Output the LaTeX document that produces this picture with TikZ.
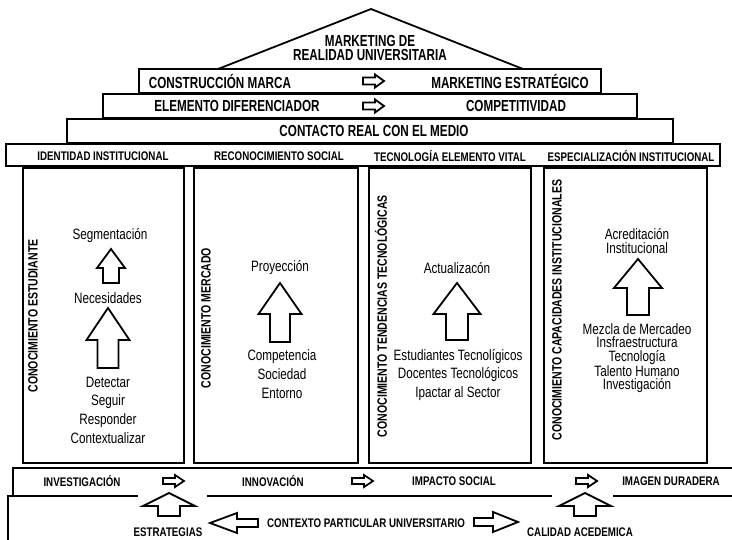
\documentclass[tikz,border=0pt]{standalone}
\usepackage{fontspec}
\setmainfont{Liberation Sans}[FakeStretch=0.78]
\newfontfamily\tallf{Liberation Sans}[FakeStretch=0.73]
\begin{document}
\begin{tikzpicture}[x=1pt,y=-1pt,
  box/.style={draw, line width=2.2pt},
  col/.style={draw, line width=1.8pt},
  arr/.style={draw, fill=white, line width=1.8pt, line join=miter},
  big/.style={font=\tallf\bfseries\fontsize{16}{14.5}\selectfont, inner sep=0pt},
  hdr/.style={font=\bfseries\fontsize{12.5}{14}\selectfont, inner sep=0pt},
  vert/.style={font=\bfseries\fontsize{13.5}{14}\selectfont, inner sep=0pt, rotate=90},
  body/.style={font=\fontsize{15}{18.7}\selectfont, inner sep=0pt, align=center},
  tight/.style={font=\fontsize{15}{13.5}\selectfont, inner sep=0pt, align=center},
  pics/uarr/.style n args={4}{code={\draw[arr] (0,0) -- (#1,#3) -- (#2,#3) -- (#2,#4) -- (-#2,#4) -- (-#2,#3) -- (-#1,#3) -- cycle;}},
  pics/rarr/.style n args={4}{code={\draw[arr] (0,0) -- (-#3,-#1) -- (-#3,-#2) -- (-#4,-#2) -- (-#4,#2) -- (-#3,#2) -- (-#3,#1) -- cycle;}},
  pics/larr/.style n args={4}{code={\draw[arr] (0,0) -- (#3,-#1) -- (#3,-#2) -- (#4,-#2) -- (#4,#2) -- (#3,#2) -- (#3,#1) -- cycle;}}
]
\useasboundingbox (0,0) rectangle (732,540);
% roof
\draw[box, line width=1.8pt] (218,69) -- (371,9) -- (523,69);
\node[big, align=center] (title) at (370,48) {MARKETING DE\\REALIDAD UNIVERSITARIA};
% stacked bands
\draw[box] (139,69) rectangle (601,93);
\draw[box] (103,94) rectangle (637,118);
\draw[box] (67,119) rectangle (673,143);
\draw[box] (6,144) rectangle (720,166);
\node[big] (cm) at (220,81) {CONSTRUCCIÓN MARCA};
\node[big] (me) at (510,81) {MARKETING ESTRATÉGICO};
\path (384,81) pic {rarr={6.5}{3.5}{9}{21}};
\node[big] (ed) at (237,106) {ELEMENTO DIFERENCIADOR};
\node[big] (co) at (516,106) {COMPETITIVIDAD};
\path (384,106) pic {rarr={6.5}{3.5}{9}{21}};
\node[big] (cr) at (374,131) {CONTACTO REAL CON EL MEDIO};
\node[hdr] (h1) at (103,156) {IDENTIDAD INSTITUCIONAL};
\node[hdr] (h2) at (279,156) {RECONOCIMIENTO SOCIAL};
\node[hdr] (h3) at (450,156) {TECNOLOGÍA ELEMENTO VITAL};
\node[hdr] (h4) at (631,156) {ESPECIALIZACIÓN INSTITUCIONAL};
% columns
\draw[col] (23,168) rectangle (184,463);
\draw[col] (194,168) rectangle (358,463);
\draw[col] (369,168) rectangle (531,463);
\draw[col] (544,168) rectangle (707,463);
\node[vert] (v1) at (33,316) {CONOCIMIENTO ESTUDIANTE};
\node[vert] (v2) at (206,318) {CONOCIMIENTO MERCADO};
\node[vert] (v3) at (381,316) {CONOCIMIENTO TENDENCIAS TECNOLÓGICAS};
\node[vert] (v4) at (557,310) {CONOCIMIENTO CAPACIDADES INSTITUCIONALES};
% column 1
\node[body] (seg) at (110,236) {Segmentación};
\path (111,249) pic {uarr={14}{8}{19}{34}};
\node[body] (nec) at (108,298) {Necesidades};
\path (108,308) pic {uarr={21.5}{10.5}{32}{60}};
\node[body] (det) at (108,410) {Detectar\\Seguir\\Responder\\Contextualizar};
% column 2
\node[body] (pro) at (280,268) {Proyección};
\path (280,283) pic {uarr={21.5}{10}{31}{59}};
\node[body] (com) at (282,374) {Competencia\\Sociedad\\Entorno};
% column 3
\node[body] (act) at (457,268) {Actualizacón};
\path (457,283) pic {uarr={23.5}{11}{31}{57}};
\node[body] (est) at (458,375) {Estudiantes Tecnolígicos\\Docentes Tecnológicos\\Ipactar al Sector};
% column 4
\node[tight] (acr) at (637,241) {Acreditación\\Institucional};
\path (638,259) pic {uarr={24}{11}{29}{56}};
\node[tight] (mez) at (637,358) {Mezcla de Mercadeo\\Insfraestructura\\Tecnología\\Talento Humano\\Investigación};
% bottom band
\draw[box] (13,496) -- (13,468) -- (732,468);
\draw[box] (8,540) -- (8,496) -- (138,496);
\draw[box] (207,496) -- (552,496);
\draw[box] (613,496) -- (732,496);
\node[hdr] (inv) at (82,481) {INVESTIGACIÓN};
\path (184,481) pic {rarr={6}{3}{9}{21}};
\node[hdr] (inn) at (273,481) {INNOVACIÓN};
\path (373,481) pic {rarr={6}{3}{9}{21}};
\node[hdr] (imp) at (454,481) {IMPACTO SOCIAL};
\path (597,481) pic {rarr={6}{3}{9}{21}};
\node[hdr] (ima) at (671,481) {IMAGEN DURADERA};
% bottom context
\path (169,493) pic {uarr={26}{11}{13}{23}};
\path (585,493) pic {uarr={26}{11}{13}{23}};
\node[hdr] (estr) at (168,532) {ESTRATEGIAS};
\node[hdr] (ctx) at (366,523) {CONTEXTO PARTICULAR UNIVERSITARIO};
\node[hdr] (cal) at (580,532) {CALIDAD ACEDEMICA};
\path (210,523) pic {larr={10}{4}{27}{48}};
\path (518,522) pic {rarr={10}{4}{25}{44}};
\end{tikzpicture}
\end{document}
